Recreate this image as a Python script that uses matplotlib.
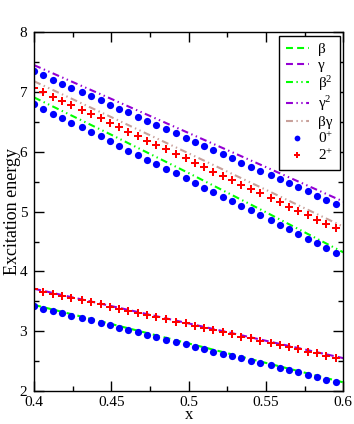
import numpy as np
import matplotlib

matplotlib.use("Agg")
import matplotlib.pyplot as plt

plt.rcParams["font.family"] = ["Liberation Serif", "DejaVu Serif"]
plt.rcParams["mathtext.fontset"] = "custom"
plt.rcParams["mathtext.rm"] = "Liberation Serif"
plt.rcParams["mathtext.it"] = "Liberation Serif:italic"
plt.rcParams["lines.scale_dashes"] = False

# sampled points (symbols)
x_pts = [0.400, 0.406, 0.412, 0.418, 0.424, 0.431, 0.437, 0.443, 0.449, 0.455,
         0.461, 0.467, 0.473, 0.479, 0.485, 0.492, 0.498, 0.504, 0.510, 0.516,
         0.522, 0.528, 0.534, 0.540, 0.546, 0.553, 0.559, 0.565, 0.571, 0.577,
         0.583, 0.589, 0.595]

gs_low = [3.42, 3.38, 3.34, 3.30, 3.26, 3.22, 3.18, 3.14, 3.10, 3.06, 3.02,
          2.98, 2.94, 2.90, 2.86, 2.82, 2.78, 2.74, 2.70, 2.66, 2.62, 2.58,
          2.55, 2.51, 2.47, 2.43, 2.39, 2.35, 2.31, 2.27, 2.23, 2.19, 2.15]
two_low = [3.70, 3.66, 3.63, 3.59, 3.56, 3.52, 3.49, 3.45, 3.41, 3.38, 3.34,
           3.31, 3.27, 3.24, 3.20, 3.16, 3.13, 3.09, 3.06, 3.02, 2.99, 2.95,
           2.91, 2.88, 2.84, 2.81, 2.77, 2.74, 2.70, 2.66, 2.63, 2.59, 2.56]
zero_mid = [6.80, 6.72, 6.64, 6.57, 6.49, 6.41, 6.33, 6.26, 6.18, 6.10, 6.02,
            5.95, 5.87, 5.79, 5.71, 5.64, 5.56, 5.48, 5.40, 5.33, 5.25, 5.17,
            5.09, 5.02, 4.94, 4.86, 4.78, 4.71, 4.63, 4.55, 4.47, 4.39, 4.31]
two_up = [7.07, 7.00, 6.92, 6.85, 6.78, 6.70, 6.63, 6.56, 6.48, 6.41, 6.34,
          6.26, 6.19, 6.11, 6.04, 5.97, 5.89, 5.82, 5.75, 5.67, 5.60, 5.53,
          5.45, 5.38, 5.31, 5.23, 5.16, 5.08, 5.01, 4.94, 4.86, 4.79, 4.72]
zero_top = [7.35, 7.28, 7.21, 7.14, 7.07, 7.00, 6.93, 6.86, 6.79, 6.72, 6.66,
            6.59, 6.52, 6.45, 6.38, 6.31, 6.24, 6.17, 6.10, 6.03, 5.96, 5.89,
            5.82, 5.75, 5.68, 5.62, 5.55, 5.48, 5.41, 5.34, 5.27, 5.20, 5.13]

# analytic curves
x_line = [0.40, 0.45, 0.50, 0.55, 0.60]
beta = [3.44, 3.12, 2.795, 2.47, 2.145]
gamma = [3.71, 3.42, 3.13, 2.84, 2.55]
beta2 = [6.91, 6.285, 5.645, 4.99, 4.32]
gamma2 = [7.45, 6.885, 6.315, 5.745, 5.17]
betagamma = [7.18, 6.58, 5.975, 5.365, 4.75]

GREEN = "#00ff00"
VIOLET = "#9400d3"
TAN = "#c8a09a"
DASH = (0, (5, 3))
DASHDOTDOT = (0, (5, 2.5, 1, 2.5, 1, 2.5))

fig = plt.figure(figsize=(3.54, 4.24), dpi=100)
ax = fig.add_axes([0.0966, 0.0778, 0.873, 0.846])

ax.plot(x_line, beta, color=GREEN, lw=1.5, linestyle=DASH, label="β")
ax.plot(x_line, gamma, color=VIOLET, lw=1.5, linestyle=DASH, label="γ")
ax.plot(x_line, beta2, color=GREEN, lw=1.5, linestyle=DASHDOTDOT, label="β$^{2}$")
ax.plot(x_line, gamma2, color=VIOLET, lw=1.5, linestyle=DASHDOTDOT, label="γ$^{2}$")
ax.plot(x_line, betagamma, color=TAN, lw=1.5, linestyle=DASHDOTDOT, label="βγ")

ax.plot(x_pts, gs_low, "o", color="#0000ff", ms=5.2, mew=0, label="0$^{+}$")
ax.plot(x_pts, zero_mid, "o", color="#0000ff", ms=5.2, mew=0)
ax.plot(x_pts, zero_top, "o", color="#0000ff", ms=5.2, mew=0)
ax.plot(x_pts, two_low, "P", color="#ff0000", ms=5.5, mew=0, label="2$^{+}$")
ax.plot(x_pts, two_up, "P", color="#ff0000", ms=5.5, mew=0)

ax.set_xlim(0.4, 0.6)
ax.set_ylim(2, 8)
ax.set_xticks([0.4, 0.45, 0.5, 0.55, 0.6])
ax.set_xticklabels(["0.4", "0.45", "0.5", "0.55", "0.6"])
ax.set_xticks([0.425, 0.475, 0.525, 0.575], minor=True)
ax.set_yticks([2, 3, 4, 5, 6, 7, 8])
ax.set_yticks([2.5, 3.5, 4.5, 5.5, 6.5, 7.5], minor=True)
ax.tick_params(which="both", direction="in", top=True, right=True, labelsize=11)
ax.tick_params(which="major", length=7, width=1)
ax.tick_params(which="minor", length=3.5, width=1)
ax.tick_params(axis="y", pad=5)
ax.tick_params(axis="x", pad=3.5)
for s in ax.spines.values():
    s.set_linewidth(1)

ax.set_xlabel("x", fontsize=12, labelpad=-1)
ax.set_ylabel("Excitation energy", fontsize=13, labelpad=-1)

lgd = ax.legend(loc="upper right", bbox_to_anchor=(0.99, 0.99), fontsize=11,
                frameon=True, fancybox=False, edgecolor="black", framealpha=1,
                handlelength=1.5, handletextpad=0.6, labelspacing=0.12,
                borderpad=0.45, borderaxespad=0, markerscale=0.8)
lgd.get_frame().set_linewidth(1)

fig.savefig("out.png", dpi=100)
